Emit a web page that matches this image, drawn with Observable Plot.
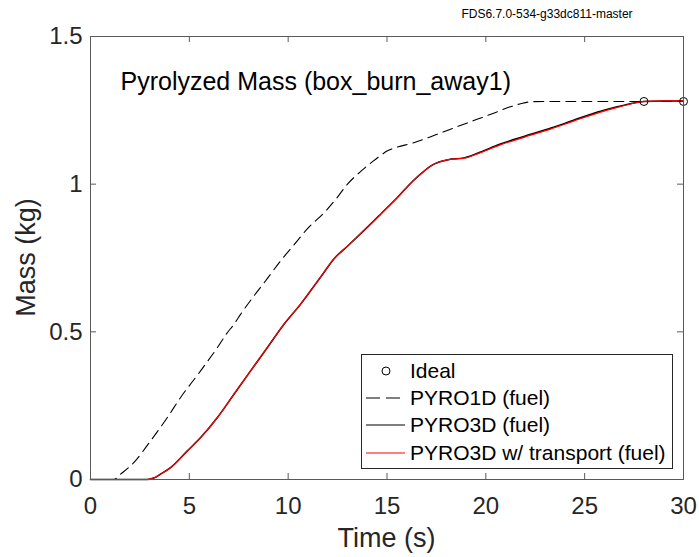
<!DOCTYPE html>
<html>
<head>
<meta charset="utf-8">
<script src="https://cdn.jsdelivr.net/npm/d3@7"></script>
<script src="https://cdn.jsdelivr.net/npm/@observablehq/plot@0.6"></script>
<style>
  html, body { margin: 0; padding: 0; background: #fff; }
  #wrap { position: relative; width: 699px; height: 557px; font-family: "Liberation Sans", Arial, sans-serif; }
  #wrap svg.overlay { position: absolute; left: 0; top: 0; pointer-events: none; }
</style>
</head>
<body>
<div id="wrap"></div>
<script>
// ---- data ----
const time1D = [0, 1.18, 1.52, 2.19, 3.03, 3.88, 4.55, 5.56, 6.41, 6.9, 7.25, 7.6, 8.26, 8.85, 9.6, 10.3, 11.0, 11.8, 12.4, 13.0, 13.7, 14.3, 14.7, 15.0, 15.5, 16.3, 17.5, 18.6, 19.7, 20.5, 21.2, 21.8, 22.3, 23, 25, 28, 30];
const mass1D = [0, 0, 0.018, 0.057, 0.13, 0.209, 0.277, 0.367, 0.446, 0.495, 0.525, 0.56, 0.621, 0.672, 0.739, 0.795, 0.851, 0.902, 0.948, 1.0, 1.045, 1.078, 1.098, 1.112, 1.125, 1.139, 1.168, 1.196, 1.223, 1.243, 1.261, 1.273, 1.279, 1.28, 1.28, 1.28, 1.28];

const time3D = [0, 2.87, 3.2, 3.54, 4.05, 4.89, 5.56, 6.41, 7.25, 8.09, 8.94, 9.78, 10.62, 11.2, 11.8, 12.3, 13.0, 13.8, 14.7, 15.5, 16.3, 16.8, 17.2, 17.6, 18.1, 18.9, 19.7, 20.7, 22.0, 23.3, 24.5, 25.8, 26.7, 27.5, 28, 29, 30];
const mass3D = [0, 0, 0.005, 0.018, 0.04, 0.096, 0.141, 0.209, 0.288, 0.367, 0.446, 0.525, 0.593, 0.645, 0.70, 0.746, 0.79, 0.841, 0.9, 0.953, 1.01, 1.04, 1.061, 1.074, 1.083, 1.089, 1.108, 1.135, 1.163, 1.19, 1.218, 1.247, 1.263, 1.275, 1.28, 1.282, 1.282];

const time3DT = [0, 2.87, 3.2, 3.54, 4.05, 4.89, 5.56, 6.41, 7.25, 8.09, 8.94, 9.78, 10.62, 11.2, 11.8, 12.3, 13.0, 13.8, 14.7, 15.5, 16.3, 16.8, 17.2, 17.6, 18.1, 18.9, 19.7, 20.7, 22.0, 23.3, 24.5, 25.8, 26.7, 27.5, 28, 29, 30];
const mass3DT = [0, 0, 0.005, 0.018, 0.04, 0.096, 0.141, 0.209, 0.288, 0.367, 0.446, 0.525, 0.593, 0.645, 0.70, 0.746, 0.79, 0.841, 0.9, 0.953, 1.01, 1.04, 1.061, 1.074, 1.083, 1.088, 1.106, 1.132, 1.16, 1.187, 1.215, 1.244, 1.261, 1.274, 1.28, 1.282, 1.282];

const idealTime = [28, 30];
const idealMass = [1.28, 1.28];

const xTicks = [0, 5, 10, 15, 20, 25, 30];
const yTicks = [0, 0.5, 1, 1.5];
const yTickLabels = ["0", "0.5", "1", "1.5"];

const titleText = "Pyrolyzed Mass (box_burn_away1)";
const xLabel = "Time (s)";
const yLabel = "Mass (kg)";
const versionText = "FDS6.7.0-534-g33dc811-master";
const seriesNames = ["Ideal", "PYRO1D (fuel)", "PYRO3D (fuel)", "PYRO3D w/ transport (fuel)"];

// ---- build tables ----
const zip = (ts, ms) => ts.map((t, i) => ({t, m: ms[i]}));
const d1 = zip(time1D, mass1D);
const d3d = zip(time3D, mass3D);
const d3t = zip(time3DT, mass3DT);
const ideal = zip(idealTime, idealMass);

const W = 699, H = 557;
const mT = 36, mR = 16, mB = 78, mL = 90;
const frameH = H - mT - mB, frameW = W - mL - mR;
const tickLen = 6;
const axisColor = "#5a5a5a";
const textColor = "#262626";

const chart = Plot.plot({
  width: W, height: H,
  marginTop: mT, marginRight: mR, marginBottom: mB, marginLeft: mL,
  x: {domain: [0, 30]},
  y: {domain: [0, 1.5]},
  style: {fontFamily: "'Liberation Sans', Arial, sans-serif", color: textColor, background: "white", overflow: "visible"},
  marks: [
    Plot.line(d1, {x: "t", y: "m", stroke: "black", strokeWidth: 1.1, strokeDasharray: "10,6", curve: "monotone-x"}),
    Plot.line(d3d, {x: "t", y: "m", stroke: "black", strokeWidth: 1.5, curve: "monotone-x"}),
    Plot.line(d3t, {x: "t", y: "m", stroke: "#ff0000", strokeWidth: 1.2, curve: "monotone-x"}),
    Plot.dot(ideal, {x: "t", y: "m", r: 4, stroke: "black", fill: "none", strokeWidth: 1}),
    Plot.frame({stroke: axisColor, strokeWidth: 1}),
    Plot.tickX(xTicks, {x: d => d, insetTop: frameH - tickLen, stroke: axisColor}),
    Plot.tickX(xTicks, {x: d => d, insetBottom: frameH - tickLen, stroke: axisColor}),
    Plot.tickY(yTicks, {y: d => d, insetRight: frameW - tickLen, stroke: axisColor}),
    Plot.tickY(yTicks, {y: d => d, insetLeft: frameW - tickLen, stroke: axisColor}),
    Plot.axisX(xTicks, {tickSize: 0, tickPadding: 17, fontSize: 24, label: null, tickFormat: d => String(d), fill: textColor}),
    Plot.axisY(yTicks, {tickSize: 0, tickPadding: 8, fontSize: 24, label: null, tickFormat: (d) => yTickLabels[yTicks.indexOf(d)], fill: textColor}),
    Plot.text([titleText], {frameAnchor: "top-left", dx: 30, dy: 45, lineAnchor: "middle", textAnchor: "start", fontSize: 25, fill: "black"})
  ]
});

const wrap = document.getElementById("wrap");
wrap.appendChild(chart);

// ---- overlay: axis labels, version string, legend ----
const ov = d3.select(wrap).append("svg")
  .attr("class", "overlay")
  .attr("width", W).attr("height", H)
  .style("font-family", "'Liberation Sans', Arial, sans-serif");

ov.append("text")
  .attr("x", mL + frameW / 2).attr("y", 547)
  .attr("text-anchor", "middle").attr("font-size", 27).attr("fill", textColor)
  .text(xLabel);

ov.append("text")
  .attr("transform", `translate(35, ${mT + frameH / 2}) rotate(-90)`)
  .attr("text-anchor", "middle").attr("font-size", 27).attr("fill", textColor)
  .text(yLabel);

ov.append("text")
  .attr("x", 547).attr("y", 18)
  .attr("text-anchor", "middle").attr("font-size", 12).attr("fill", "black")
  .text(versionText);

// legend
const lg = ov.append("g").attr("transform", "translate(361,354)");
lg.append("rect").attr("x", 0.5).attr("y", 0.5).attr("width", 311).attr("height", 114)
  .attr("fill", "white").attr("stroke", textColor).attr("stroke-width", 1);
const rowY = [17, 44, 71, 99];
const styles = [
  {type: "dot"},
  {type: "line", stroke: "black", dash: "14,6"},
  {type: "line", stroke: "black", dash: null},
  {type: "line", stroke: "#ff0000", dash: null}
];
seriesNames.forEach((name, i) => {
  const y = rowY[i];
  const s = styles[i];
  if (s.type === "dot") {
    lg.append("circle").attr("cx", 25).attr("cy", y).attr("r", 4)
      .attr("fill", "none").attr("stroke", "black").attr("stroke-width", 1);
  } else {
    lg.append("line").attr("x1", 5).attr("x2", 44).attr("y1", y).attr("y2", y)
      .attr("stroke", s.stroke).attr("stroke-width", 1.2)
      .attr("stroke-dasharray", s.dash);
  }
  lg.append("text").attr("x", 49).attr("y", y).attr("dy", "0.35em")
    .attr("font-size", 21).attr("fill", "black").text(name);
});
</script>
</body>
</html>
